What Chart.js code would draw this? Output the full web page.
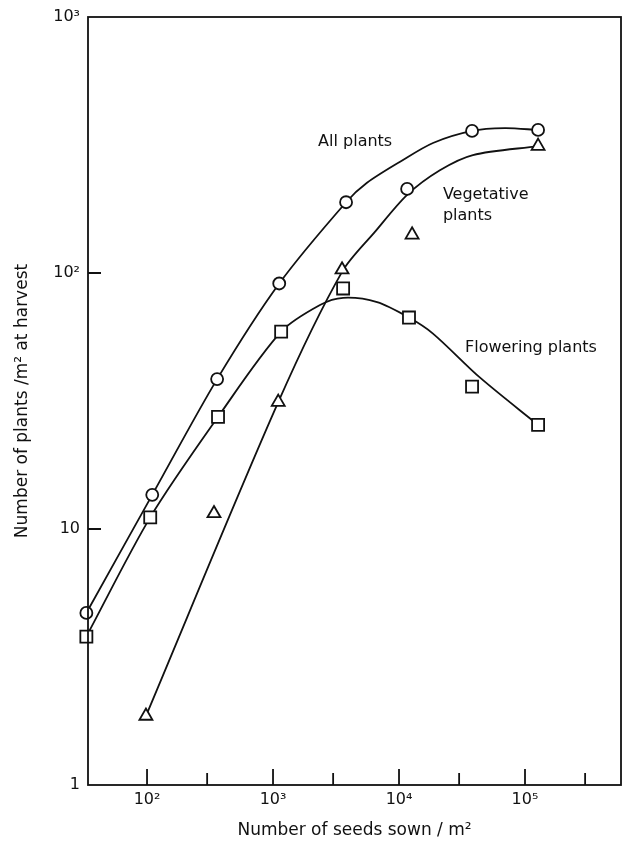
<!DOCTYPE html>
<html>
<head>
<meta charset="utf-8">
<title>Plants at harvest vs seeds sown</title>
<script src="https://cdn.jsdelivr.net/npm/chart.js@4.4.1/dist/chart.umd.min.js"></script>
<style>
  html, body { margin: 0; padding: 0; background: #fff; }
  #wrap { width: 623px; height: 846px; position: relative; }
</style>
</head>
<body>
<div id="wrap"><canvas id="chart"></canvas></div>
<script>
// Observed points (seeds sown /m², plants /m² at harvest)
const allX = [33, 110, 360, 1120, 3800, 11600, 38000, 127000];
const allY = [4.7, 13.6, 38.5, 91, 189, 213, 359, 362];

const vegX = [98, 340, 1100, 3530, 12700, 127000];
const vegY = [1.86, 11.5, 31.3, 103, 141, 313];

const floX = [33, 106, 366, 1160, 3600, 12000, 38000, 127000];
const floY = [3.8, 11.1, 27.4, 59, 87, 67, 36, 25.5];

// Hand-fitted curves
const allCurveX = [33, 110, 360, 1120, 3800, 5570, 10200, 18600, 38000, 69000, 127000];
const allCurveY = [4.7, 13.6, 38.5, 91, 189, 225, 272, 322, 359, 368, 362];

const vegCurveX = [98, 1100, 3530, 6460, 11600, 21100, 38600, 127000];
const vegCurveY = [1.86, 31.3, 101, 145, 202, 252, 289, 313];

const floCurveX = [33, 106, 366, 1160, 2360, 3600, 6700, 12000, 18600, 44000, 127000];
const floCurveY = [3.8, 11.1, 27.4, 59, 75, 80, 77, 67, 58, 39, 25.5];

// Axis ticks
const xMajor = [100, 1000, 10000, 100000];
const xMinor = [300, 3000, 30000, 300000];
const xLabels = ['10²', '10³', '10⁴', '10⁵'];
const yMajor = [1, 10, 100, 1000];
const yLabels = ['1', '10', '10²', '10³'];

// Curve labels
const noteText = ['All plants', 'Vegetative', 'plants', 'Flowering plants'];
const noteX = [2280, 22300, 22300, 33400];
const noteY = [325, 202, 167, 51];

const ink = '#111';
const font16 = '16px "DejaVu Sans", sans-serif';
const pts = (xs, ys) => xs.map((x, i) => ({ x, y: ys[i] }));

// inward tick marks, frame, x tick labels and curve labels
const framePlugin = {
    id: 'framePlugin',
    afterDraw(chart) {
        const { ctx, chartArea: a, scales: { x, y } } = chart;
        ctx.save();
        ctx.strokeStyle = ink;
        ctx.lineWidth = 1.8;
        ctx.strokeRect(a.left, a.top, a.right - a.left, a.bottom - a.top);

        ctx.beginPath();
        xMajor.forEach(v => {
            const px = x.getPixelForValue(v);
            ctx.moveTo(px, a.bottom);
            ctx.lineTo(px, a.bottom - 16);
        });
        xMinor.forEach(v => {
            const px = x.getPixelForValue(v);
            ctx.moveTo(px, a.bottom);
            ctx.lineTo(px, a.bottom - 12);
        });
        yMajor.slice(1, -1).forEach(v => {
            const py = y.getPixelForValue(v);
            ctx.moveTo(a.left, py);
            ctx.lineTo(a.left + 13, py);
        });
        ctx.stroke();

        ctx.fillStyle = ink;
        ctx.font = font16;
        ctx.textBaseline = 'middle';

        // x tick labels drawn here so they add no layout padding
        ctx.textAlign = 'center';
        xMajor.forEach((v, i) => {
            ctx.fillText(xLabels[i], x.getPixelForValue(v), a.bottom + 15);
        });

        ctx.textAlign = 'left';
        noteText.forEach((t, i) => {
            ctx.fillText(t, x.getPixelForValue(noteX[i]), y.getPixelForValue(noteY[i]));
        });
        ctx.restore();
    }
};

const markerBase = {
    showLine: false,
    backgroundColor: '#fff',
    borderColor: ink,
    pointBackgroundColor: '#fff',
    pointBorderColor: ink,
    pointBorderWidth: 1.8,
    clip: false,
    order: 0
};

const curveBase = {
    showLine: true,
    borderColor: ink,
    borderWidth: 1.8,
    pointRadius: 0,
    fill: false,
    tension: 0.3,
    clip: false,
    order: 1
};

new Chart(document.getElementById('chart'), {
    type: 'scatter',
    data: {
        datasets: [
            { ...markerBase, label: 'All plants', data: pts(allX, allY), pointStyle: 'circle', pointRadius: 6 },
            { ...markerBase, label: 'Vegetative plants', data: pts(vegX, vegY), pointStyle: 'triangle', pointRadius: 7.5 },
            { ...markerBase, label: 'Flowering plants', data: pts(floX, floY), pointStyle: 'rect', pointRadius: 8.5 },
            { ...curveBase, label: 'All plants fit', data: pts(allCurveX, allCurveY) },
            { ...curveBase, label: 'Vegetative fit', data: pts(vegCurveX, vegCurveY) },
            { ...curveBase, label: 'Flowering fit', data: pts(floCurveX, floCurveY) }
        ]
    },
    options: {
        responsive: true,
        maintainAspectRatio: false,
        animation: false,
        layout: { autoPadding: false, padding: { top: 17, right: 2, left: 0, bottom: 0 } },
        plugins: {
            legend: { display: false },
            tooltip: { enabled: false }
        },
        scales: {
            x: {
                type: 'logarithmic',
                min: 34,
                max: 578000,
                grid: { display: false, drawTicks: false },
                border: { display: false },
                ticks: { display: false },
                afterFit: s => { s.height = 61; s.paddingLeft = 0; s.paddingRight = 0; },
                title: {
                    display: true,
                    text: 'Number of seeds sown / m²',
                    color: ink,
                    font: { family: '"DejaVu Sans", sans-serif', size: 17 },
                    padding: { top: 0, bottom: 5 }
                }
            },
            y: {
                type: 'logarithmic',
                min: 1,
                max: 1000,
                grid: { display: false, drawTicks: false },
                border: { display: false },
                afterBuildTicks: s => { s.ticks = yMajor.map(v => ({ value: v })); },
                afterFit: s => { s.width = 88; s.paddingTop = 0; s.paddingBottom = 0; },
                ticks: {
                    color: ink,
                    padding: 8,
                    font: { family: '"DejaVu Sans", sans-serif', size: 16 },
                    callback: (v) => yLabels[yMajor.indexOf(v)]
                },
                title: {
                    display: true,
                    text: 'Number of plants /m² at harvest',
                    color: ink,
                    font: { family: '"DejaVu Sans", sans-serif', size: 17 },
                    padding: { top: 12, bottom: 0 }
                }
            }
        }
    },
    plugins: [framePlugin]
});
</script>
</body>
</html>
